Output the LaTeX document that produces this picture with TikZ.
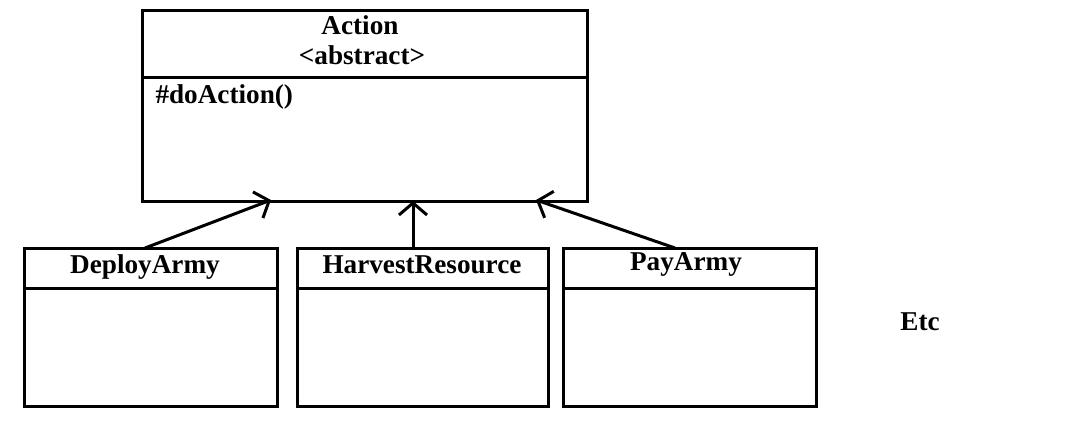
\documentclass[tikz,border=0pt]{standalone}
\usepackage{fontspec}
\setmainfont{Liberation Serif}
\usetikzlibrary{arrows.meta}
\begin{document}
\begin{tikzpicture}[x=1pt,y=-1pt,line width=3pt,
  umlbox/.style={draw,rectangle,anchor=north west,inner sep=0pt,outer sep=0pt},
  lbl/.style={anchor=base,inner sep=0pt,font=\fontsize{27.2}{30}\selectfont\bfseries},
  inherit/.style={-{Straight Barb[length=12pt,width=28pt,line width=3pt]}}]
\useasboundingbox (0,0) rectangle (1076,437);
\fill[white] (0,0) rectangle (1076,437);
% Action
\node[umlbox,minimum width=445pt,minimum height=191pt] (action) at (142,10) {};
\draw ([yshift=-67pt]action.north west) -- ([yshift=-67pt]action.north east);
\node[lbl] (actname) at (360,34) {Action};
\node[lbl] (actstereo) at (362,64) {<abstract>};
\node[lbl,anchor=base west] (actop) at (154,103) {\#doAction()};
% subclasses
\node[umlbox,minimum width=253pt,minimum height=158pt] (deploy) at (24,248) {};
\draw ([yshift=-40pt]deploy.north west) -- ([yshift=-40pt]deploy.north east);
\node[lbl] (deployname) at (145,273) {DeployArmy};
\node[umlbox,minimum width=251pt,minimum height=158pt] (harvest) at (297,248) {};
\draw ([yshift=-40pt]harvest.north west) -- ([yshift=-40pt]harvest.north east);
\node[lbl] (harvestname) at (422,273) {HarvestResource};
\node[umlbox,minimum width=253pt,minimum height=158pt] (pay) at (563,248) {};
\draw ([yshift=-40pt]pay.north west) -- ([yshift=-40pt]pay.north east);
\node[lbl] (payname) at (686,270) {PayArmy};
\node[lbl] (etc) at (920,330) {Etc};
% connectors
\coordinate (t1) at (271,200);
\coordinate (t2) at (413,201);
\coordinate (t3) at (536,200);
\draw[inherit] ([xshift=-132pt]deploy.north east) -- (t1);
\draw[inherit] (harvest.north -| t2) -- (t2);
\draw[inherit] ([xshift=112pt]pay.north west) -- (t3);
\end{tikzpicture}
\end{document}
